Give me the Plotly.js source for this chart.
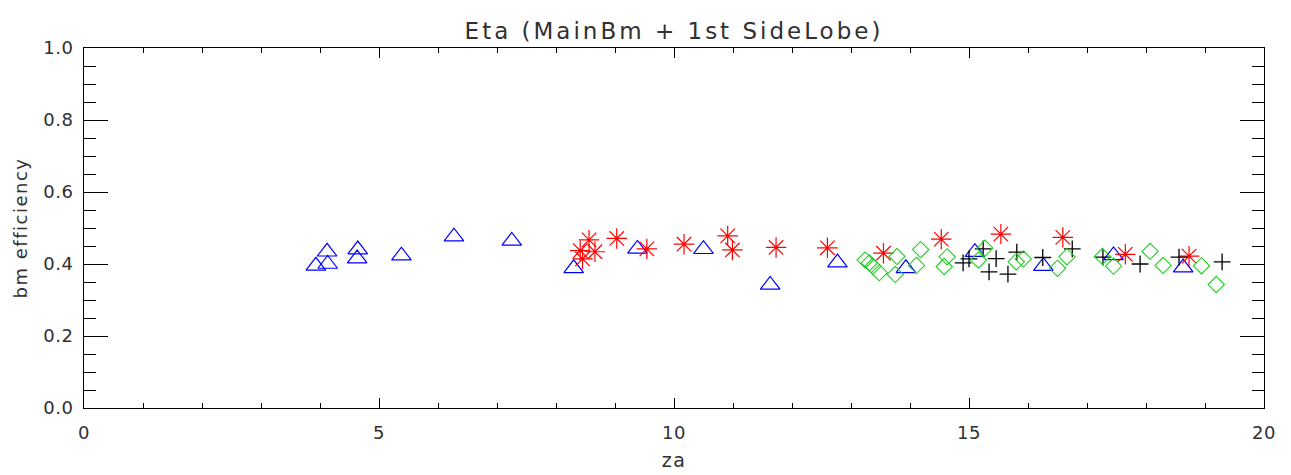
<!DOCTYPE html>
<html>
<head>
<meta charset="utf-8">
<script src="https://cdn.plot.ly/plotly-3.0.1.min.js"></script>
<style>
  html, body { margin: 0; padding: 0; background: #fff; }
  #chart { width: 1291px; height: 475px; }
  .gtitle { letter-spacing: 3px; }
  .ytitle, .xtitle { letter-spacing: 1.5px; }
  .xtick text, .ytick text { letter-spacing: 0.5px; }
</style>
</head>
<body>
<div id="chart"></div>
<script>
// Blue triangles
const triZa  = [3.93, 4.12, 4.13, 4.64, 4.63, 5.38, 6.27, 7.25, 8.30, 9.38, 10.50, 11.63, 12.77, 13.93, 15.10, 16.26, 17.45, 18.63];
const triEff = [0.395, 0.434, 0.400, 0.440, 0.415, 0.423, 0.476, 0.464, 0.388, 0.442, 0.441, 0.342, 0.404, 0.388, 0.433, 0.394, 0.424, 0.390];

// Red asterisks
const astZa  = [8.56, 8.41, 8.45, 8.66, 9.03, 9.54, 10.17, 10.91, 10.99, 11.73, 12.60, 13.55, 14.53, 15.54, 16.59, 17.65, 18.73];
const astEff = [0.467, 0.437, 0.414, 0.434, 0.471, 0.442, 0.455, 0.478, 0.439, 0.446, 0.445, 0.430, 0.469, 0.483, 0.474, 0.427, 0.422];

// Black plus signs
const plusZa  = [14.90, 15.00, 15.24, 15.34, 15.46, 15.66, 15.81, 16.25, 16.75, 17.27, 17.90, 18.56, 19.29];
const plusEff = [0.403, 0.414, 0.442, 0.378, 0.415, 0.372, 0.433, 0.418, 0.442, 0.419, 0.400, 0.419, 0.406];

// Green diamonds
const diaZa  = [13.24, 13.31, 13.37, 13.48, 13.75, 13.78, 14.18, 14.11, 14.63, 14.58, 15.27, 15.16, 15.80, 15.92, 16.50, 16.66, 17.26, 17.45, 18.07, 18.29, 18.94, 19.19];
const diaEff = [0.411, 0.403, 0.394, 0.376, 0.371, 0.421, 0.440, 0.396, 0.420, 0.393, 0.444, 0.411, 0.406, 0.414, 0.388, 0.420, 0.421, 0.394, 0.435, 0.396, 0.395, 0.343];

const titleText = 'Eta (MainBm + 1st SideLobe)';
const xTitle = 'za';
const yTitle = 'bm efficiency';
const xTickVals = [0, 5, 10, 15, 20];
const yTickVals = [0.0, 0.2, 0.4, 0.6, 0.8, 1.0];
const yTickText = ['0.0', '0.2', '0.4', '0.6', '0.8', '1.0'];

const FONT = 'DejaVu Sans, Liberation Sans, sans-serif';
const TXT = '#303030';

const traces = [
  { x: triZa, y: triEff, type: 'scatter', mode: 'markers',
    marker: { symbol: 'triangle-up-open', size: 17, color: '#0000ff', line: { width: 1.2, color: '#0000ff' } } },
  { x: astZa, y: astEff, type: 'scatter', mode: 'markers',
    marker: { symbol: 'asterisk-open', size: 17, color: '#ff0000', line: { width: 1.2, color: '#ff0000' } } },
  { x: plusZa, y: plusEff, type: 'scatter', mode: 'markers',
    marker: { symbol: 'cross-thin-open', size: 12, color: '#000000', line: { width: 1.3, color: '#000000' } } },
  { x: diaZa, y: diaEff, type: 'scatter', mode: 'markers',
    marker: { symbol: 'diamond-open', size: 12.5, color: '#1ed01e', line: { width: 1.1, color: '#1ed01e' } } }
];

const layout = {
  width: 1291, height: 475,
  margin: { l: 84, r: 27, t: 48, b: 67, pad: 0 },
  paper_bgcolor: '#ffffff', plot_bgcolor: '#ffffff',
  showlegend: false,
  font: { family: FONT, color: TXT, size: 17 },
  title: { text: titleText, font: { family: FONT, size: 23, color: TXT },
           x: 0.5, xref: 'paper', xanchor: 'center', y: 0.935, yanchor: 'middle' },
  xaxis: {
    range: [0, 20], tickmode: 'array', tickvals: xTickVals,
    ticks: 'inside', ticklen: 10, tickwidth: 1, tickcolor: '#000',
    minor: { dtick: 1, ticks: 'inside', ticklen: 5, tickwidth: 1, tickcolor: '#000' },
    showline: true, linecolor: '#000', linewidth: 1, mirror: 'ticks',
    showgrid: false, zeroline: false,
    tickfont: { family: FONT, size: 18, color: TXT },
    ticklabelstandoff: 8,
    title: { text: xTitle, font: { family: FONT, size: 19, color: TXT }, standoff: 12 }
  },
  yaxis: {
    range: [0, 1], tickmode: 'array', tickvals: yTickVals, ticktext: yTickText,
    ticks: 'inside', ticklen: 24, tickwidth: 1, tickcolor: '#000',
    minor: { dtick: 0.05, ticks: 'inside', ticklen: 12, tickwidth: 1, tickcolor: '#000' },
    showline: true, linecolor: '#000', linewidth: 1, mirror: 'ticks',
    showgrid: false, zeroline: false,
    tickfont: { family: FONT, size: 18, color: TXT },
    ticklabelstandoff: 6,
    title: { text: yTitle, font: { family: FONT, size: 18, color: TXT }, standoff: 10 }
  }
};

Plotly.newPlot('chart', traces, layout, { staticPlot: true, displayModeBar: false });
</script>
</body>
</html>
